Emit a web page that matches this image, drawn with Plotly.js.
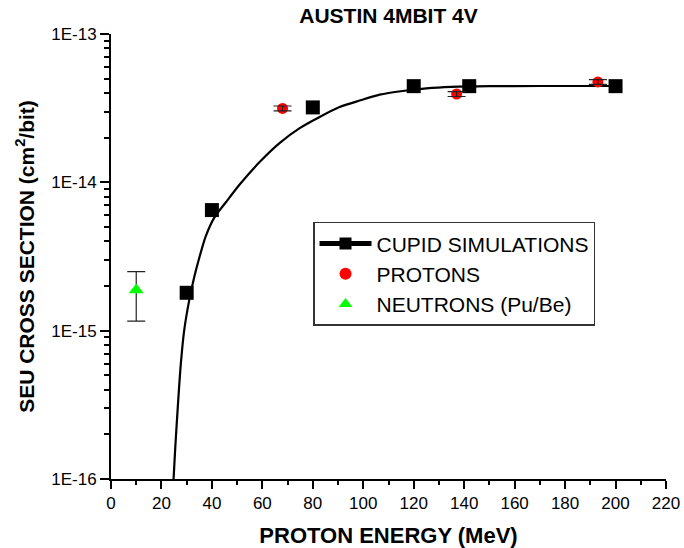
<!DOCTYPE html>
<html>
<head>
<meta charset="utf-8">
<script src="https://cdn.plot.ly/plotly-3.0.1.min.js"></script>
<style>html,body{margin:0;padding:0;background:#fff;}#chart{width:684px;height:548px;}</style>
</head>
<body>
<div id="chart"></div>
<script>
// CUPID simulation points
var cupidE = [30, 40, 80, 120, 142, 200];
var cupidS = [1.8e-15, 6.5e-15, 3.2e-14, 4.45e-14, 4.45e-14, 4.45e-14];
// Fitted curve
var curveE = [24.8, 25.5, 26.5, 27.5, 29, 31, 33, 35, 37.5, 41, 45.7, 51, 58.9, 66.8, 74.8, 82.7, 90.6, 98.6, 106.5, 115.6, 125, 135, 150, 170, 200];
var curveS = [1.0e-16, 1.66e-16, 3.1e-16, 5.5e-16, 1.0e-15, 1.6e-15, 2.3e-15, 3.1e-15, 4.3e-15, 5.8e-15, 7.4e-15, 9.66e-15, 1.37e-14, 1.84e-14, 2.32e-14, 2.76e-14, 3.22e-14, 3.56e-14, 3.9e-14, 4.13e-14, 4.3e-14, 4.4e-14, 4.45e-14, 4.46e-14, 4.46e-14];
// Proton measurements
var protonE = [68, 137, 193];
var protonS = [3.15e-14, 3.94e-14, 4.75e-14];
var protonErr = [1.2e-15, 1.5e-15, 1.8e-15];
// Neutron (Pu/Be) measurement
var neutronE = [10];
var neutronS = [1.88e-15];
var neutronErrPlus = [0.62e-15];
var neutronErrMinus = [0.72e-15];

var yTickVals = [1e-16, 1e-15, 1e-14, 1e-13];
var yTickText = ['1E-16', '1E-15', '1E-14', '1E-13'];
var yMinor = [];
[1e-16, 1e-15, 1e-14].forEach(function (d) { for (var k = 2; k <= 9; k++) yMinor.push(d * k); });

var F = 'Arial, "Liberation Sans", sans-serif';

var traces = [
  {x: curveE, y: curveS, mode: 'lines', line: {color: '#000', width: 2.2, shape: 'spline', smoothing: 0.6}, showlegend: false, hoverinfo: 'skip'},
  {x: cupidE, y: cupidS, mode: 'markers', marker: {symbol: 'square', size: 14, color: '#000'}, showlegend: false},
  {x: [null], y: [null], mode: 'lines+markers', name: 'CUPID SIMULATIONS',
   line: {color: '#000', width: 1.6}, marker: {symbol: 'square', size: 11, color: '#000'}},
  {x: protonE, y: protonS, mode: 'markers', name: 'PROTONS',
   marker: {symbol: 'circle', size: 11, color: '#ff0000'}},
  {x: protonE, y: protonS, mode: 'markers', showlegend: false,
   marker: {size: 10, opacity: 0},
   error_y: {type: 'data', array: protonErr, color: '#222', thickness: 1.2, width: 9}},
  {x: neutronE, y: neutronS, mode: 'markers', name: 'NEUTRONS (Pu/Be)',
   marker: {symbol: 'triangle-up', size: 13, color: '#00ff00'},
   error_y: {type: 'data', symmetric: false, array: neutronErrPlus, arrayminus: neutronErrMinus, color: '#222', thickness: 1.2, width: 9}}
];

var layout = {
  width: 684, height: 548,
  margin: {l: 111, r: 18, t: 34, b: 69},
  paper_bgcolor: '#fff', plot_bgcolor: '#fff',
  font: {family: F, color: '#000', size: 17},
  title: {text: '<b>AUSTIN 4MBIT 4V</b>', font: {family: F, size: 21, color: '#000'},
          x: 0.5, xanchor: 'center', y: 0.972, yanchor: 'middle', xref: 'paper'},
  xaxis: {
    range: [0, 220], dtick: 20, tick0: 0,
    showline: true, linecolor: '#000', linewidth: 2,
    ticks: 'outside', ticklen: 8, tickwidth: 2, tickcolor: '#000',
    minor: {dtick: 10, ticks: 'outside', ticklen: 4, tickwidth: 2, tickcolor: '#000'},
    showgrid: false, zeroline: false,
    tickfont: {family: F, size: 17, color: '#000'},
    title: {text: '<b>PROTON ENERGY (MeV)</b>', font: {family: F, size: 22, color: '#000'}, standoff: 16}
  },
  yaxis: {
    type: 'log', range: [-16, -13],
    tickvals: yTickVals, ticktext: yTickText,
    showline: true, linecolor: '#000', linewidth: 2,
    ticks: 'outside', ticklen: 9, tickwidth: 2, tickcolor: '#000',
    minor: {tickvals: yMinor, ticks: 'outside', ticklen: 5, tickwidth: 2, tickcolor: '#000'},
    showgrid: false, zeroline: false,
    tickfont: {family: F, size: 17, color: '#000'},
    title: {text: '<b>SEU CROSS SECTION (cm<sup>2</sup>/bit)</b>', font: {family: F, size: 21, color: '#000'}, standoff: 11}
  },
  showlegend: true,
  legend: {
    x: 0.364, y: 0.578, xanchor: 'left', yanchor: 'top',
    bgcolor: '#fff', bordercolor: '#333', borderwidth: 1.5,
    font: {family: F, size: 21, color: '#000'},
    tracegroupgap: 0, itemsizing: 'constant', itemwidth: 52
  }
};

Plotly.newPlot('chart', traces, layout, {displayModeBar: false, staticPlot: true});
</script>
</body>
</html>
